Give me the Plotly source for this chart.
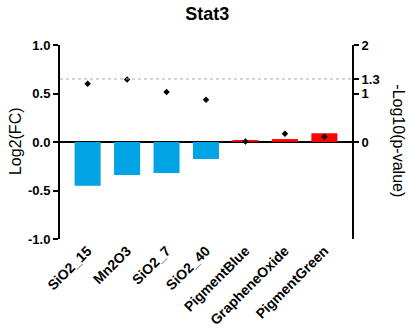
import plotly.graph_objects as go

categories = ["SiO2_15", "Mn2O3", "SiO2_7", "SiO2_40", "PigmentBlue", "GrapheneOxide", "PigmentGreen"]
log2fc = [-0.45, -0.34, -0.32, -0.175, 0.015, 0.03, 0.09]
neglog10p = [1.2, 1.29, 1.03, 0.87, 0.01, 0.17, 0.11]
bar_colors = ["#00A3E4" if v < 0 else "#FF0000" for v in log2fc]
threshold = 1.3

FONT = "Liberation Sans, Arial, sans-serif"

fig = go.Figure()
fig.add_trace(go.Bar(x=categories, y=log2fc, marker=dict(color=bar_colors, line=dict(width=0)),
                     width=0.66, yaxis="y", showlegend=False, hoverinfo="skip"))
fig.add_trace(go.Scatter(x=categories, y=neglog10p, mode="markers", yaxis="y2",
                         marker=dict(symbol="diamond", size=5, color="black"), showlegend=False,
                         hoverinfo="skip"))

fig.add_shape(type="line", xref="paper", yref="y2", x0=0, x1=1, y0=threshold, y1=threshold,
              line=dict(color="#AAAAAA", width=1, dash="dot"))

fig.update_layout(
    width=408, height=335,
    margin=dict(l=60, r=56, t=45, b=96, autoexpand=False),
    plot_bgcolor="white", paper_bgcolor="white",
    font=dict(family=FONT, color="black"),
    title=dict(text="<b>Stat3</b>", x=0.508, xanchor="center", y=0.958, yanchor="middle",
               font=dict(size=18, family=FONT)),
    xaxis=dict(type="category", range=[-0.7, 6.7], tickangle=-45, showline=False, ticks="",
               automargin=False, showgrid=False,
               tickvals=categories, ticktext=[f"<b>{c}</b>" for c in categories],
               tickfont=dict(size=14, family=FONT)),
    yaxis=dict(range=[-1.0, 1.0], tickvals=[-1.0, -0.5, 0.0, 0.5, 1.0],
               ticktext=["<b>-1.0</b>", "<b>-0.5</b>", "<b>0.0</b>", "<b>0.5</b>", "<b>1.0</b>"],
               showline=True, linecolor="black", linewidth=2, ticks="outside", ticklen=5,
               tickwidth=2, tickcolor="black", showgrid=False, zeroline=True, automargin=False,
               zerolinecolor="black", zerolinewidth=1.5, tickfont=dict(size=13, family=FONT)),
    yaxis2=dict(range=[-2, 2], overlaying="y", side="right", tickvals=[0, 1, 1.3, 2],
                ticktext=["<b>0</b>", "<b>1</b>", "<b>1.3</b>", "<b>2</b>"],
                showline=True, linecolor="black", linewidth=2, ticks="outside", ticklen=5,
                tickwidth=2, tickcolor="black", showgrid=False, zeroline=False, automargin=False,
                tickfont=dict(size=13, family=FONT)),
    annotations=[
        dict(text="Log2(FC)", xref="paper", yref="paper", x=-0.154, y=0.505,
             textangle=-90, showarrow=False, font=dict(size=16, family=FONT),
             xanchor="center", yanchor="middle"),
        dict(text="-Log10(p-value)", xref="paper", yref="paper", x=1.16, y=0.505,
             textangle=90, showarrow=False, font=dict(size=16, family=FONT),
             xanchor="center", yanchor="middle"),
    ],
)

fig.write_html("out.html", config={"displayModeBar": False},
               post_script="document.body.style.margin='0';document.body.style.overflow='hidden';")
